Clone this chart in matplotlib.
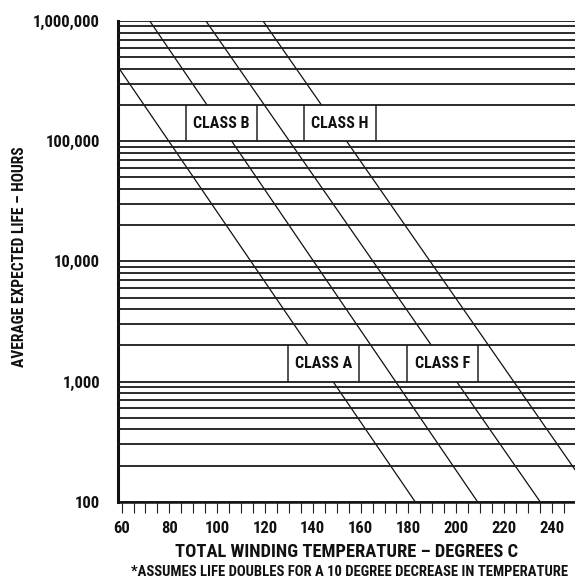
import numpy as np
import matplotlib
matplotlib.use("Agg")
import matplotlib.pyplot as plt
from matplotlib.ticker import LogLocator, MultipleLocator, FuncFormatter, NullFormatter

plt.rcParams['font.family'] = ['Roboto Condensed', 'DejaVu Sans']
plt.rcParams['font.weight'] = 'bold'

# Life lines: temperature (deg C) where each class line crosses 1,000,000 h and 100 h
classes = ['A', 'B', 'F', 'H']
temp_at_1m_hours = [45.4, 71.8, 95.3, 119.2]
temp_at_100_hours = [182.8, 208.9, 235.1, 259.0]
line_hours = [1000000, 100]

# Class label boxes
label_names = ['CLASS A', 'CLASS B', 'CLASS F', 'CLASS H']
label_left = [129.6, 87.0, 179.4, 136.3]
label_right = [159.3, 116.7, 209.1, 166.4]
label_low = [1000, 100000, 1000, 100000]
label_high = [2000, 200000, 2000, 200000]

x_tick_labels = [60, 80, 100, 120, 140, 160, 180, 200, 220, 240]

fig = plt.figure(figsize=(5.75, 5.81), dpi=100)
ax = fig.add_axes([118 / 575, 1 - 501.7 / 581, 1 - 118 / 575, (501.7 - 21) / 581])

# diagonal class lines
for t1, t2 in zip(temp_at_1m_hours, temp_at_100_hours):
    ax.plot([t1, t2], line_hours, color='#111111', lw=0.9, zorder=2)

# label boxes
for name, xl, xr, lo, hi in zip(label_names, label_left, label_right, label_low, label_high):
    ax.fill_betweenx([lo, hi], xl, xr, color='white', zorder=2.2, lw=0)
    ax.vlines([xl, xr], lo, hi, color='#222222', lw=1.1, zorder=2.3)
    ax.text((xl + xr) / 2, np.sqrt(lo * hi), name, ha='center', va='center',
            fontsize=11.5, color='#111111', zorder=3)

ax.set_yscale('log')
ax.set_ylim(100, 1000000)
ax.set_xlim(58.5, 249.7)

ax.yaxis.set_major_locator(LogLocator(base=10))
ax.yaxis.set_minor_locator(LogLocator(base=10, subs=range(2, 10)))
ax.yaxis.set_major_formatter(FuncFormatter(lambda v, p: f'{v:,.0f}'))
ax.yaxis.set_minor_formatter(NullFormatter())
ax.tick_params(axis='y', which='both', length=0, pad=13, labelsize=12, colors='#111111')

ax.set_xticks(x_tick_labels)
ax.xaxis.set_minor_locator(MultipleLocator(5))
ax.tick_params(axis='x', which='both', direction='out', length=8, width=0.8,
               color='#222222', pad=6, labelsize=12, labelcolor='#111111')

ax.set_axisbelow(False)
ax.grid(axis='y', which='both', color='#1a1a1a', lw=1.3)

for s in ['top', 'right']:
    ax.spines[s].set_visible(False)
ax.spines['left'].set_linewidth(2.2)
ax.spines['bottom'].set_linewidth(1.8)
ax.spines['left'].set_color('#111111')
ax.spines['bottom'].set_color('#111111')

fig.text(20 / 575, 1 - 257 / 581, 'AVERAGE EXPECTED LIFE \u2013 HOURS', rotation=90,
         ha='center', va='center', fontsize=11.2, color='#111111')
fig.text(347 / 575, 1 - 552 / 581, 'TOTAL WINDING TEMPERATURE \u2013 DEGREES C',
         ha='center', va='center', fontsize=13.3, color='#111111')
fig.text(350 / 575, 1 - 572 / 581,
         '*ASSUMES LIFE DOUBLES FOR A 10 DEGREE DECREASE IN TEMPERATURE',
         ha='center', va='center', fontsize=10.5, color='#111111')

fig.savefig('out.png', dpi=100)
